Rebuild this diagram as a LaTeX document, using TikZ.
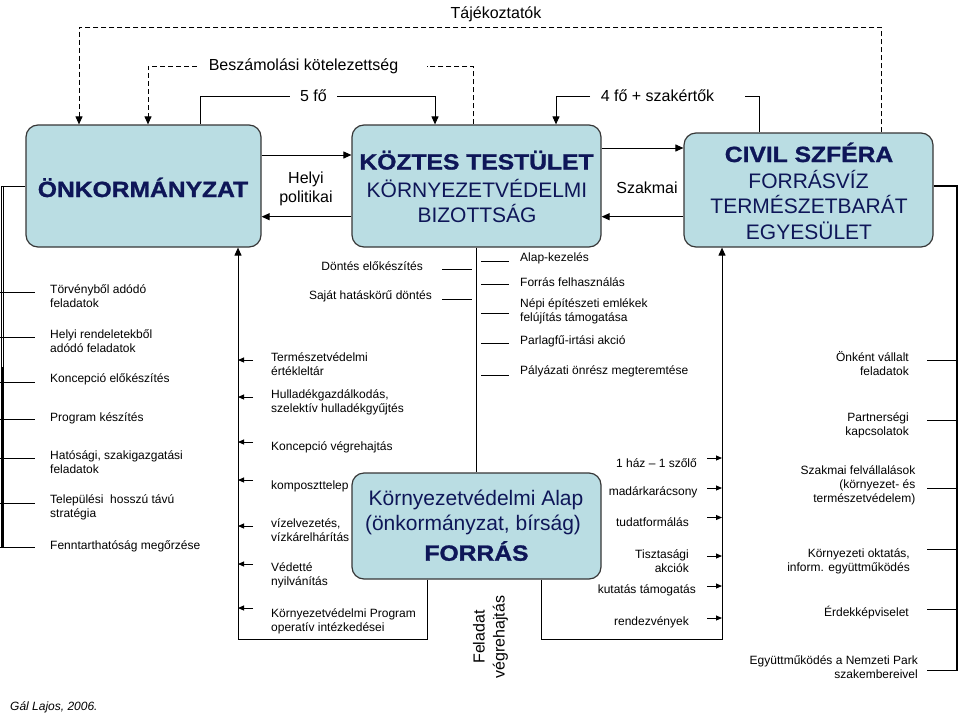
\documentclass[tikz,border=0pt]{standalone}
\usepackage{fontspec}
\setmainfont{Liberation Sans}
\newfontfamily\heavyfont[FakeBold=1.2]{Liberation Sans Bold}
\usepackage{graphicx}
\usetikzlibrary{arrows.meta}
\definecolor{boxfill}{RGB}{186,221,227}
\definecolor{boxtext}{RGB}{14,22,88}
\definecolor{boxline}{RGB}{55,55,55}
\newcommand{\bigbold}[1]{{\fontsize{22}{26}\selectfont\heavyfont\scalebox{1.12}[1]{#1}}}
\begin{document}
\begin{tikzpicture}[x=1pt,y=-1pt,
  box/.style={draw=boxline, line width=1.2pt, fill=boxfill, rounded corners=12pt, inner sep=0pt},
  boxtxt/.style={anchor=base, inner sep=0pt, text=boxtext},
  boxreg/.style={boxtxt, font=\fontsize{21}{25}\selectfont},
  lbl/.style={font=\fontsize{16}{19}\selectfont, inner sep=0pt},
  sm/.style={font=\fontsize{12}{14}\selectfont, inner sep=0pt},
  conn/.style={line width=1pt},
  arr/.style={conn, -{Triangle[length=8pt,width=7pt]}},
  sarr/.style={conn, -{Triangle[length=6pt,width=5pt]}},
  dsh/.style={dash pattern=on 5pt off 3pt}
]
\useasboundingbox (0,0) rectangle (960,720);
\fill[white] (0,0) rectangle (960,720);

% ---------- left column texts ----------
\node[sm, anchor=west, align=left] (l1) at (50,296) {Törvényből adódó\\feladatok};
\node[sm, anchor=west, align=left] (l2) at (50,341.5) {Helyi rendeletekből\\adódó feladatok};
\node[sm, anchor=west, align=left] (l3) at (50,379) {Koncepció előkészítés};
\node[sm, anchor=west, align=left] (l4) at (50,418) {Program készítés};
\node[sm, anchor=west, align=left] (l5) at (50,462) {Hatósági, szakigazgatási\\feladatok};
\node[sm, anchor=west, align=left] (l6) at (50,507.5) {Települési~ hosszú távú\\stratégia};
\node[sm, anchor=west, align=left] (l7) at (50,546) {Fenntarthatóság megőrzése};
\foreach \y in {292,337,382,419,458,503,547} \draw[conn] (0,\y) -- (35,\y);

% ---------- second column texts ----------
\node[sm, anchor=west, align=left] (m1) at (271,364) {Természetvédelmi\\értékleltár};
\node[sm, anchor=west, align=left] (m2) at (271,402) {Hulladékgazdálkodás,\\szelektív hulladékgyűjtés};
\node[sm, anchor=west, align=left] (m3) at (271,447) {Koncepció végrehajtás};
\node[sm, anchor=west, align=left] (m4) at (271,486) {komposzttelep};
\node[sm, anchor=west, align=left] (m5) at (271,529.7) {vízelvezetés,\\vízkárelhárítás};
\node[sm, anchor=west, align=left] (m6) at (271,575) {Védetté\\nyilvánítás};
\node[sm, anchor=west, align=left] (m7) at (271,621) {Környezetvédelmi Program\\operatív intézkedései};
\foreach \y in {360,397,442,480,526,564,608} \draw[sarr] (253,\y) -- (238,\y);

% ---------- middle texts ----------
\node[sm, anchor=east] (c1) at (423,265.7) {Döntés előkészítés};
\node[sm, anchor=east] (c2) at (432,296) {Saját hatáskörű döntés};
\foreach \y in {269,299} \draw[conn] (442,\y) -- (472,\y);
\node[sm, anchor=west, align=left] (d1) at (520,258) {Alap-kezelés};
\node[sm, anchor=west, align=left] (d2) at (520,281.7) {Forrás felhasználás};
\node[sm, anchor=west, align=left] (d3) at (520,311) {Népi építészeti emlékek\\felújítás támogatása};
\node[sm, anchor=west, align=left] (d4) at (520,341.7) {Parlagfű-irtási akció};
\node[sm, anchor=west, align=left] (d5) at (520,371.7) {Pályázati önrész megteremtése};
\foreach \y in {261.7,284,313.3,343.3,375} \draw[conn] (481,\y) -- (509,\y);

% ---------- right inner column texts ----------
\node[sm, anchor=east] (r1) at (697,463.3) {1 ház – 1 szőlő};
\node[sm, anchor=east] (r2) at (697.7,492.7) {madárkarácsony};
\node[sm, anchor=east] (r3) at (689,521.7) {tudatformálás};
\node[sm, anchor=east, align=right] (r4) at (689,561) {Tisztasági\\akciók};
\node[sm, anchor=east] (r5) at (696,590.7) {kutatás támogatás};
\node[sm, anchor=east] (r6) at (689,622.3) {rendezvények};
\foreach \y in {458,488,517.5,556,586,618} \draw[sarr] (707,\y) -- (722,\y);

% ---------- far right texts ----------
\node[sm, anchor=east, align=right] (f1) at (909,364) {Önként vállalt\\feladatok};
\node[sm, anchor=east, align=right] (f2) at (909,425) {Partnerségi\\kapcsolatok};
\node[sm, anchor=east, align=right] (f3) at (915.5,485) {Szakmai felvállalások\\(környezet- és\\természetvédelem)};
\node[sm, anchor=east, align=right] (f4) at (910,561) {Környezeti oktatás,\\inform. együttműködés};
\node[sm, anchor=east, align=right] (f5) at (909,612.7) {Érdekképviselet};
\node[sm, anchor=east, align=right] (f6) at (918,666.7) {Együttműködés a Nemzeti Park\\szakembereivel};
\foreach \y in {360,420,488.3,549.3,609,670.7} \draw[conn] (927,\y) -- (957,\y);

% ---------- boxes ----------
\node[box, minimum width=235pt, minimum height=122pt] (onk) at (143.5,186) {};
\node[box, minimum width=249pt, minimum height=122pt] (kb) at (476.5,186) {};
\node[box, minimum width=249pt, minimum height=114pt] (civ) at (808.5,190) {};
\node[box, minimum width=249pt, minimum height=106pt] (alap) at (476.5,526) {};

\node[boxtxt] (onkt) at (143,197) {\bigbold{ÖNKORMÁNYZAT}};
\node[boxtxt] (kbt1) at (476.5,169.5) {\bigbold{KÖZTES TESTÜLET}};
\node[boxreg] (kbt2) at (477,197) {KÖRNYEZETVÉDELMI};
\node[boxreg] (kbt3) at (477,222) {BIZOTTSÁG};
\node[boxtxt] (civt1) at (809,162) {\bigbold{CIVIL SZFÉRA}};
\node[boxreg] (civt2) at (808.5,188) {FORRÁSVÍZ};
\node[boxreg] (civt3) at (809,213.3) {TERMÉSZETBARÁT};
\node[boxreg] (civt4) at (809,239.3) {EGYESÜLET};
\node[boxreg] (alt1) at (476,505.7) {Környezetvédelmi Alap};
\node[boxreg] (alt2) at (473,530.7) {(önkormányzat, bírság)};
\node[boxtxt] (alt3) at (476.5,560.7) {\bigbold{FORRÁS}};

% ---------- connectors between boxes ----------
\draw[arr] (onk.east |- 0,155) -- (kb.west |- 0,155);
\draw[arr] (kb.west |- 0,216.7) -- (onk.east |- 0,216.7);
\draw[arr] (kb.east |- 0,148) -- (civ.west |- 0,148);
\draw[arr] (civ.west |- 0,216.7) -- (kb.east |- 0,216.7);
\node[lbl, align=center] (helyi) at (306,188.5) {Helyi\\politikai};
\node[lbl] (szakm) at (647,188) {Szakmai};

% 5 fo
\node[lbl, minimum width=47pt] (t5) at (313.5,96) {5 fő};
\draw[conn] (onk.north -| 200,0) |- (t5.west);
\draw[arr] (t5.east) -| (kb.north -| 435,0);

% Beszamolasi kotelezettseg
\node[lbl] (tb) at (303.5,66) {Beszámolási kötelezettség};
\coordinate (bl) at (197,66);
\coordinate (br) at (427,66);
\draw[conn, dsh] (kb.north -| 473,0) |- (br);
\draw[arr, dsh] (bl) -| (onk.north -| 148,0);

% 4 fo + szakertok
\node[lbl] (t4) at (657.5,96) {4 fő + szakértők};
\coordinate (fl) at (590,96);
\coordinate (fr) at (745,96);
\draw[conn] (civ.north -| 759,0) |- (fr);
\draw[arr] (fl) -| (kb.north -| 556,0);

% Tajekoztatok
\node[lbl] (ttj) at (496,14.5) {Tájékoztatók};
\coordinate (tjr) at (881,27);
\coordinate (tjl) at (79,27);
\draw[arr, dsh] (civ.north -| 881,0) -- (tjr) -- (tjl) -- (onk.north -| 79,0);

% Forras loops
\coordinate (lb1) at (427,639);
\coordinate (lb2) at (238,639);
\draw[arr] (alap.south -| 427,0) -- (lb1) -- (lb2) -- (onk.south -| 238,0);
\coordinate (rb1) at (541,639);
\coordinate (rb2) at (722,639);
\draw[arr] (alap.south -| 541,0) -- (rb1) -- (rb2) -- (civ.south -| 722,0);
\draw[conn] (kb.south) -- (alap.north);

% left bracket
\coordinate (lt1) at (1,186);
\coordinate (lt2) at (1,547);
\draw[conn] (onk.west) -- (lt1) -- (lt2);
\draw[conn] (3.5,186) -- (3.5,547);
\fill (0.5,367) rectangle (4,547);

% right bracket
\coordinate (rt1) at (957,186);
\coordinate (rt2) at (957,670.7);
\draw[conn, line width=1.2pt] (civ.east |- rt1) -- (rt1) -- (rt2);

% feladat vegrehajtas
\node[lbl, rotate=90, align=center, font=\fontsize{16}{20}\selectfont] (fv) at (490.5,637) {Feladat\\végrehajtás};

% author
\node[sm, anchor=west, font=\fontsize{12}{14}\selectfont\itshape] (auth) at (10,707) {Gál Lajos, 2006.};
\end{tikzpicture}
\end{document}
